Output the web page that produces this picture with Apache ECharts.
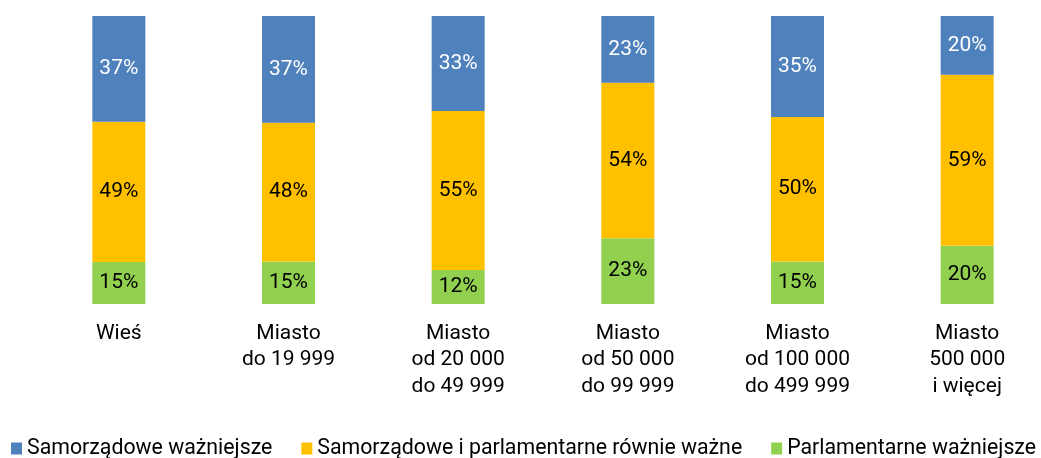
<!DOCTYPE html>
<html>
<head>
<meta charset="utf-8">
<script src="https://cdn.jsdelivr.net/npm/echarts@6/dist/echarts.min.js"></script>
<style>
  html, body { margin: 0; padding: 0; background: #fff; }
  #chart { width: 1041px; height: 458px; }
</style>
</head>
<body>
<div id="chart"></div>
<script>
var categories = ['Wieś', 'Miasto\ndo 19 999', 'Miasto\nod 20 000\ndo 49 999', 'Miasto\nod 50 000\ndo 99 999', 'Miasto\nod 100 000\ndo 499 999', 'Miasto\n500 000\ni więcej'];
var samorzadowe = [36.7, 37.1, 33.0, 23.2, 35.1, 20.4];
var rowne = [48.7, 48.1, 55.2, 54.0, 50.1, 59.4];
var parlamentarne = [14.6, 14.8, 11.8, 22.8, 14.8, 20.2];

var names = ['Samorządowe ważniejsze', 'Samorządowe i parlamentarne równie ważne', 'Parlamentarne ważniejsze'];
var font = 'Roboto';

function pct(p) {
  return Math.round(p.value) + '%';
}

function serie(name, data, color, textColor) {
  return {
    name: name,
    type: 'bar',
    stack: 'total',
    barWidth: 53,
    data: data,
    itemStyle: { color: color },
    label: {
      show: true,
      position: 'inside',
      formatter: pct,
      color: textColor,
      fontFamily: font,
      fontSize: 21
    }
  };
}

var myChart = echarts.init(document.getElementById('chart'));
var option = {
  animation: false,
  textStyle: { fontFamily: font },
  grid: { left: 34, top: 16, right: -11, height: 288, outerBoundsMode: 'none' },
  legend: {
    data: names,
    left: 6,
    top: 433,
    width: 1040,
    icon: 'rect',
    itemWidth: 11,
    itemHeight: 12,
    itemGap: 29,
    textStyle: { fontFamily: font, fontSize: 21.3, color: '#000' }
  },
  xAxis: {
    type: 'category',
    data: categories,
    axisLine: { show: false },
    axisTick: { show: false },
    axisLabel: {
      interval: 0,
      margin: 16,
      fontFamily: font,
      fontSize: 21,
      lineHeight: 26.5,
      color: '#000'
    }
  },
  yAxis: {
    type: 'value',
    min: 0,
    max: 100,
    show: false
  },
  series: [
    serie(names[2], parlamentarne, '#92d050', '#000'),
    serie(names[1], rowne, '#ffc000', '#000'),
    serie(names[0], samorzadowe, '#4f81bd', '#fff')
  ]
};
myChart.setOption(option);
</script>
</body>
</html>
